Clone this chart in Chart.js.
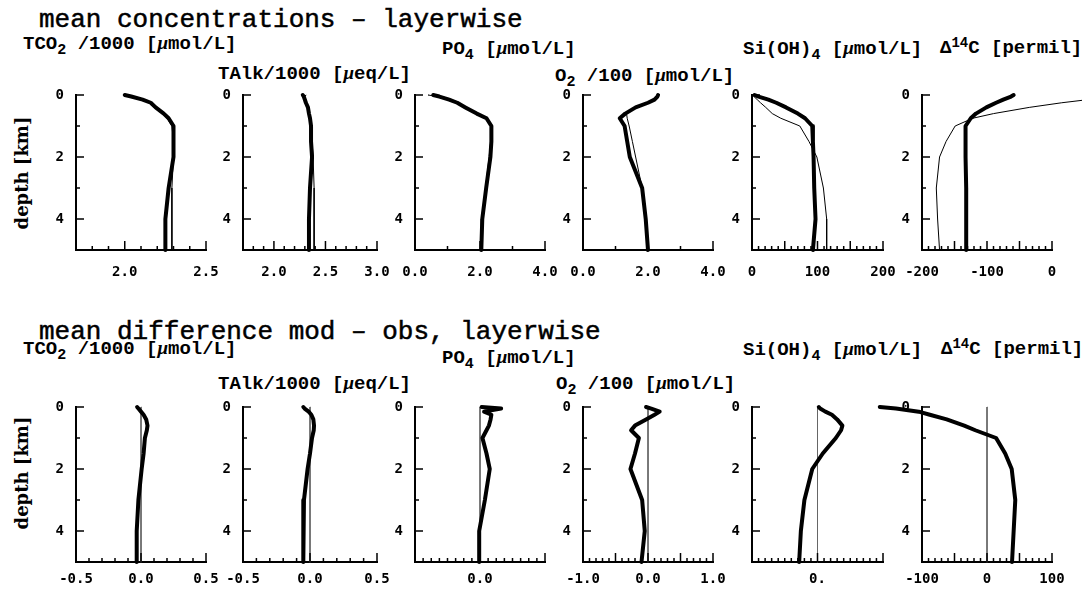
<!DOCTYPE html>
<html><head><meta charset="utf-8">
<script src="https://cdn.jsdelivr.net/npm/chart.js@4.4.1/dist/chart.umd.min.js"></script>
<style>
html,body{margin:0;padding:0;background:#fff;width:1082px;height:593px;overflow:hidden;position:relative;}
canvas{position:absolute;}
.t{position:absolute;white-space:nowrap;color:#000;line-height:1;}
.title{font-family:"Liberation Mono",monospace;font-size:26px;-webkit-text-stroke:0.5px #000;}
.lab{font-family:"Liberation Mono",monospace;font-size:19px;font-weight:bold;}
.lab i{font-family:"Liberation Serif",serif;font-style:italic;}
.sb{font-size:15px;position:relative;top:5px;}
.sp{font-size:14px;position:relative;top:-6px;}
.dl{font-family:"DejaVu Serif",serif;font-weight:bold;font-size:18px;transform:translate(-50%,-50%) rotate(-90deg);}
</style>
</head><body>
<div class="t title" style="left:39px;top:7px">mean concentrations – layerwise</div>
<div class="t title" style="left:39px;top:319px">mean difference mod – obs, layerwise</div>

<div class="t lab" style="left:23px;top:33px">TCO<span class="sb">2</span> /1000 [<i>μ</i>mol/L]</div>
<div class="t lab" style="left:218px;top:63px">TAlk/1000 [<i>μ</i>eq/L]</div>
<div class="t lab" style="left:442px;top:38px">PO<span class="sb">4</span> [<i>μ</i>mol/L]</div>
<div class="t lab" style="left:555px;top:65px">O<span class="sb">2</span> /100 [<i>μ</i>mol/L]</div>
<div class="t lab" style="left:743px;top:38px">Si(OH)<span class="sb">4</span> [<i>μ</i>mol/L]</div>
<div class="t lab" style="left:940px;top:39px">Δ<span class="sp">14</span>C [permil]</div>

<div class="t lab" style="left:23px;top:338px">TCO<span class="sb">2</span> /1000 [<i>μ</i>mol/L]</div>
<div class="t lab" style="left:218px;top:373px">TAlk/1000 [<i>μ</i>eq/L]</div>
<div class="t lab" style="left:442px;top:347px">PO<span class="sb">4</span> [<i>μ</i>mol/L]</div>
<div class="t lab" style="left:556px;top:373px">O<span class="sb">2</span> /100 [<i>μ</i>mol/L]</div>
<div class="t lab" style="left:743px;top:339px">Si(OH)<span class="sb">4</span> [<i>μ</i>mol/L]</div>
<div class="t lab" style="left:941px;top:340px">Δ<span class="sp">14</span>C [permil]</div>

<div class="t dl" style="left:22px;top:173px">depth [km]</div>
<div class="t dl" style="left:22px;top:473px">depth [km]</div>

<script>
// depth levels (km)
const depth = [0, 0.05, 0.15, 0.25, 0.4, 0.6, 0.75, 1, 1.5, 2, 3, 4, 5];
const zeroDepth = [0, 5];
const zeroLine = [0, 0];

// mean concentrations: model (thick) and observations (thin)
const tco2Model = [2.00, 2.04, 2.11, 2.16, 2.19, 2.24, 2.27, 2.30, 2.30, 2.30, 2.27, 2.25, 2.25];
const tco2Obs   = [2.00, 2.04, 2.10, 2.15, 2.18, 2.23, 2.26, 2.29, 2.30, 2.30, 2.29, 2.29, 2.29];
const talkModel = [2.28, 2.29, 2.30, 2.31, 2.33, 2.34, 2.35, 2.36, 2.36, 2.37, 2.35, 2.34, 2.34];
const talkObs   = [2.31, 2.30, 2.31, 2.32, 2.33, 2.34, 2.35, 2.36, 2.37, 2.38, 2.39, 2.39, 2.39];
const po4Model  = [0.56, 0.75, 1.05, 1.30, 1.55, 1.90, 2.20, 2.35, 2.35, 2.32, 2.19, 2.07, 2.04];
const po4Obs    = [0.40, 0.70, 1.02, 1.28, 1.53, 1.88, 2.17, 2.33, 2.33, 2.28, 2.17, 2.06, 2.04];
const o2Model   = [2.31, 2.29, 2.20, 2.00, 1.62, 1.30, 1.13, 1.28, 1.36, 1.44, 1.82, 1.93, 2.00];
const o2Obs     = [2.31, 2.29, 2.20, 2.00, 1.64, 1.34, 1.36, 1.42, 1.52, 1.62, 1.82, 1.93, 2.00];
const siModel   = [4, 10, 25, 37, 52, 70, 81, 92, 93, 94, 95, 97, 93];
const siObs     = [0, 3, 8, 13, 21, 31, 44, 73, 87, 99, 109, 114, 114];
const c14Model  = [-59, -63, -75, -86, -101, -117, -125, -133, -133, -133, -132, -132, -132];
const c14Obs    = [90, 75, 55, 15, -35, -90, -122, -149, -163, -173, -178, -176, -173];

// mean difference model - obs
const tco2Diff = [-0.03, -0.02, 0.00, 0.02, 0.04, 0.05, 0.045, 0.03, 0.02, 0.005, -0.02, -0.033, -0.033];
const talkDiff = [-0.05, -0.04, -0.01, 0.01, 0.025, 0.03, 0.028, 0.015, 0.0, -0.018, -0.045, -0.05, -0.05];
const po4Diff  = [0.02, 0.26, 0.05, 0.14, 0.13, 0.11, 0.08, 0.03, 0.08, 0.12, 0.06, -0.01, -0.01];
const o2Diff   = [-0.03, 0.05, 0.18, 0.10, -0.03, -0.20, -0.26, -0.14, -0.20, -0.27, -0.09, -0.05, -0.10];
const siDiff   = [1, 2, 6, 11, 15, 19, 18, 14, 4, -4, -10, -12.7, -14];
const c14Diff  = [-165, -140, -105, -88, -62, -35, -18, 14, 28, 38, 43.5, 41, 38.5];

// depth axis ticks
const depthTicks = [0, 1, 2, 3, 4, 5];
const depthTickLabels = [0, 2, 4];
const depthTickText = ['0', '2', '4'];

// x tick labels per panel
const tco2Lab = [2.0, 2.5],  tco2LabText = ['2.0', '2.5'];
const talkLab = [2.0, 2.5, 3.0], talkLabText = ['2.0', '2.5', '3.0'];
const po4Lab  = [0, 2, 4],   po4LabText  = ['0.0', '2.0', '4.0'];
const o2Lab   = [0, 2, 4],   o2LabText   = ['0.0', '2.0', '4.0'];
const siLab   = [0, 100, 200], siLabText = ['0', '100', '200'];
const c14Lab  = [-200, -100, 0], c14LabText = ['-200', '-100', '0'];
const tco2DLab = [-0.5, 0, 0.5], tco2DLabText = ['-0.5', '0.0', '0.5'];
const talkDLab = [-0.5, 0, 0.5], talkDLabText = ['-0.5', '0.0', '0.5'];
const po4DLab  = [0], po4DLabText = ['0.0'];
const o2DLab   = [-1, 0, 1], o2DLabText = ['-1.0', '0.0', '1.0'];
const siDLab   = [0], siDLabText = ['0.'];
const c14DLab  = [-100, 0, 100], c14DLabText = ['-100', '0', '100'];

const THICK = {color:'#000', width:4};
const THIN = {color:'#000', width:1};
const ZERO = {color:'#666', width:1};

const rowGeom = [{T:95, B:250, pad:14}, {T:407, B:562, pad:9}];
const colGeom = [[76,206],[243,377],[415,545],[583,713],[752,883],[922,1052]];

function S(vals, st, dep) { return {vals, st, dep: dep || depth}; }

const panels = [
 {r:0,c:0,min:1.7,max:2.5,step:0.1,major:[2.0,2.5],lab:tco2Lab,txt:tco2LabText,series:[S(tco2Model,THICK),S(tco2Obs,THIN)]},
 {r:0,c:1,min:1.7,max:3.0,step:0.1,major:[2.0,2.5,3.0],lab:talkLab,txt:talkLabText,series:[S(talkModel,THICK),S(talkObs,THIN)]},
 {r:0,c:2,min:0,max:4,step:1,major:[2,4],lab:po4Lab,txt:po4LabText,series:[S(po4Model,THICK),S(po4Obs,THIN)]},
 {r:0,c:3,min:0,max:4,step:1,major:[2,4],lab:o2Lab,txt:o2LabText,series:[S(o2Model,THICK),S(o2Obs,THIN)]},
 {r:0,c:4,min:0,max:200,step:10,major:[50,100,150,200],lab:siLab,txt:siLabText,series:[S(siModel,THICK),S(siObs,THIN)]},
 {r:0,c:5,min:-200,max:0,step:10,major:[-150,-100,-50,0],lab:c14Lab,txt:c14LabText,series:[S(c14Model,THICK),S(c14Obs,THIN)]},
 {r:1,c:0,min:-0.5,max:0.5,step:0.1,major:[0,0.5],lab:tco2DLab,txt:tco2DLabText,series:[S(tco2Diff,THICK),S(zeroLine,ZERO,zeroDepth)]},
 {r:1,c:1,min:-0.5,max:0.5,step:0.1,major:[0,0.5],lab:talkDLab,txt:talkDLabText,series:[S(talkDiff,THICK),S(zeroLine,ZERO,zeroDepth)]},
 {r:1,c:2,min:-0.8,max:0.8,step:0.1,major:[0,0.8],lab:po4DLab,txt:po4DLabText,series:[S(po4Diff,THICK),S(zeroLine,ZERO,zeroDepth)]},
 {r:1,c:3,min:-1,max:1,step:0.1,major:[-0.5,0,0.5,1],lab:o2DLab,txt:o2DLabText,series:[S(o2Diff,THICK),S(zeroLine,ZERO,zeroDepth)]},
 {r:1,c:4,min:-50,max:50,step:5,major:[0,50],lab:siDLab,txt:siDLabText,series:[S(siDiff,THICK),S(zeroLine,ZERO,zeroDepth)]},
 {r:1,c:5,min:-100,max:100,step:10,major:[-50,0,50,100],lab:c14DLab,txt:c14DLabText,series:[S(c14Diff,THICK),S(zeroLine,ZERO,zeroDepth)]}
];

const tickFont = {family:'"DejaVu Sans Mono", monospace', weight:'bold', size:14};

panels.forEach(p => {
  const [L, R] = colGeom[p.c];
  const {T, B, pad} = rowGeom[p.r];
  const W = (R - L) + 90, H = (B - T) + 55;
  const cv = document.createElement('canvas');
  cv.width = W; cv.height = H;
  cv.style.left = (L - 60) + 'px'; cv.style.top = (T - 15) + 'px';
  cv.style.width = W + 'px'; cv.style.height = H + 'px';
  document.body.appendChild(cv);

  const inTicks = {
    id: 'inTicks',
    afterDraw(chart) {
      const ctx = chart.ctx, xs = chart.scales.x, ys = chart.scales.y, a = chart.chartArea;
      ctx.save();
      ctx.strokeStyle = '#000'; ctx.lineWidth = 1.5; ctx.beginPath();
      const n = Math.round((p.max - p.min) / p.step);
      for (let k = 1; k <= n; k++) {
        const v = p.min + k * p.step;
        const px = xs.getPixelForValue(v);
        const major = p.major.some(m => Math.abs(m - v) < 1e-6);
        const len = major ? 9 : 4;
        ctx.moveTo(px, a.bottom); ctx.lineTo(px, a.bottom - len);
      }
      depthTicks.forEach(v => {
        if (v === 5) return;
        const py = ys.getPixelForValue(v);
        const len = depthTickLabels.includes(v) ? 8 : 4;
        ctx.moveTo(a.left, py); ctx.lineTo(a.left + len, py);
      });
      ctx.stroke(); ctx.restore();
    }
  };

  new Chart(cv, {
    type: 'line',
    data: {
      datasets: p.series.map(s => ({
        data: s.dep.map((d, i) => ({x: s.vals[i], y: d})),
        borderColor: s.st.color, borderWidth: s.st.width,
        pointRadius: 0, tension: 0, fill: false, clip: false,
        borderCapStyle: 'round', borderJoinStyle: 'round'
      }))
    },
    options: {
      indexAxis: 'y', responsive: false, animation: false, devicePixelRatio: 1, events: [],
      layout: {padding: {left: 20, right: 30, top: 15, bottom: 5}},
      plugins: {legend: {display: false}, tooltip: {enabled: false}},
      scales: {
        x: {
          type: 'linear', position: 'bottom', min: p.min, max: p.max,
          grid: {display: false, drawTicks: false},
          border: {display: true, width: 2, color: '#000'},
          ticks: {padding: pad, color: '#000', font: tickFont, autoSkip: false, maxRotation: 0,
                  callback: (v, i) => p.txt[i]},
          afterBuildTicks: s => { s.ticks = p.lab.map(v => ({value: v})); },
          afterFit: s => { s.height = 35; s.paddingLeft = 0; s.paddingRight = 0; }
        },
        y: {
          type: 'linear', position: 'left', reverse: true, min: 0, max: 5,
          grid: {display: false, drawTicks: false},
          border: {display: true, width: 2, color: '#000'},
          ticks: {padding: 12, color: '#000', font: tickFont, autoSkip: false,
                  callback: (v, i) => depthTickText[i]},
          afterBuildTicks: s => { s.ticks = depthTickLabels.map(v => ({value: v})); },
          afterFit: s => { s.width = 40; s.paddingTop = 0; s.paddingBottom = 0; }
        }
      }
    },
    plugins: [inTicks]
  });
});
</script>
</body></html>
